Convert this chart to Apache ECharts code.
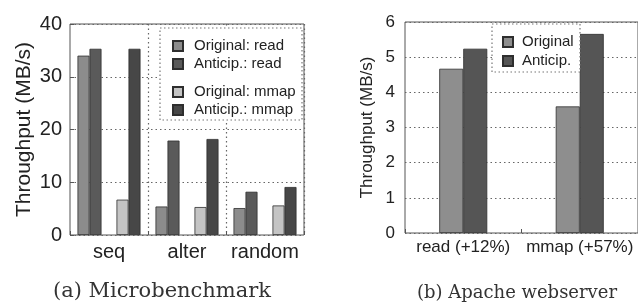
<!DOCTYPE html>
<html lang="en">
<head>
    <meta charset="UTF-8">
    <title>Throughput</title>
    <script type="text/javascript" src="https://cdn.jsdelivr.net/npm/echarts@6/dist/echarts.min.js"></script>
    <style>
        html, body { margin: 0; padding: 0; background: #fff; }
    </style>
</head>
<body>

    <div id="chart" style="width:638px;height:303px;"></div>

<script type="text/javascript">
    // (a) Microbenchmark
    var groups = ['seq', 'alter', 'random'];
    var origRead = [34.0, 5.4, 5.1];
    var antRead = [35.3, 17.9, 8.2];
    var origMmap = [6.7, 5.3, 5.6];
    var antMmap = [35.3, 18.2, 9.1];

    // (b) Apache webserver
    var apacheCats = ['read (+12%)', 'mmap (+57%)'];
    var apacheOrig = [4.67, 3.6];
    var apacheAnt = [5.24, 5.66];

    // each group holds a read pair then a mmap pair
    var pairKeys = [];
    groups.forEach(function (g) { pairKeys.push(g + ':read', g + ':mmap'); });

    function spread(vals, slot) {
        var out = [];
        vals.forEach(function (v) {
            out.push(slot === 0 ? v : null, slot === 1 ? v : null);
        });
        return out;
    }

    var font = "'Liberation Sans', Arial, sans-serif";
    var ink = '#222';
    var dots = { color: '#666', width: 1.2, type: [1.5, 3] };
    var outline = { borderColor: '#2e2e2e', borderWidth: 0.8 };

    function txt(size, extra) {
        return Object.assign({ fontFamily: font, fontSize: size, color: ink }, extra || {});
    }

    function bar(name, data, stack, color, xi, yi, w) {
        return {
            name: name, type: 'bar', data: data, stack: stack,
            xAxisIndex: xi, yAxisIndex: yi, barWidth: w, barGap: 0,
            itemStyle: Object.assign({ color: color }, outline),
            animation: false
        };
    }

    var dom = document.getElementById('chart');
    var myChart = echarts.init(dom);

    var option = {
        animation: false,
        textStyle: { fontFamily: font, color: ink },
        grid: [
            { left: 70, right: 334, top: 24, bottom: 68, show: true, borderColor: '#555', borderWidth: 1 },
            { left: 405, right: -7, top: 22, bottom: 70, show: true, borderColor: '#555', borderWidth: 1 }
        ],
        xAxis: [
            {   // bars of the microbenchmark
                gridIndex: 0, type: 'category', data: pairKeys,
                axisLine: { show: false }, axisTick: { show: false },
                axisLabel: { show: false }, splitLine: { show: false }
            },
            {   // group labels and dividers
                gridIndex: 0, type: 'category', data: groups, position: 'bottom',
                axisLine: { show: false },
                axisTick: { show: true, inside: true, length: 4, lineStyle: { color: '#555' } },
                axisLabel: txt(20, { margin: 7, interval: 0 }),
                splitLine: {
                    show: true, lineStyle: dots,
                    interval: function (i) { return i > 0; }
                }
            },
            {
                gridIndex: 1, type: 'category', data: apacheCats,
                axisLine: { show: false },
                axisTick: { show: true, inside: true, length: 4, lineStyle: { color: '#555' } },
                axisLabel: txt(17, { margin: 6, interval: 0 }),
                splitLine: { show: false }
            }
        ],
        yAxis: [
            {
                gridIndex: 0, type: 'value', min: 0, max: 40, interval: 10,
                name: 'Throughput (MB/s)', nameLocation: 'middle', nameGap: 35,
                nameTextStyle: txt(21),
                axisLine: { show: false },
                axisTick: { show: true, inside: true, length: 4, lineStyle: { color: '#555' } },
                axisLabel: txt(20, { margin: 8 }),
                splitLine: { show: true, lineStyle: dots }
            },
            {
                gridIndex: 1, type: 'value', min: 0, max: 6, interval: 1,
                name: 'Throughput (MB/s)', nameLocation: 'middle', nameGap: 29,
                nameTextStyle: txt(17),
                axisLine: { show: false },
                axisTick: { show: false },
                axisLabel: txt(17, { margin: 10 }),
                splitLine: { show: true, lineStyle: dots }
            }
        ],
        legend: [
            {
                data: ['Original: read', 'Anticip.: read'],
                left: 167, top: 33, orient: 'vertical',
                itemWidth: 10, itemHeight: 10, itemGap: 2, icon: 'rect',
                textStyle: txt(15, { lineHeight: 16, padding: [0, 0, 0, 6] }),
                selectedMode: false
            },
            {
                data: ['Original: mmap', 'Anticip.: mmap'],
                left: 167, top: 79, orient: 'vertical',
                itemWidth: 10, itemHeight: 10, itemGap: 2, icon: 'rect',
                textStyle: txt(15, { lineHeight: 16, padding: [0, 0, 0, 6] }),
                selectedMode: false
            },
            {
                data: ['Original', 'Anticip.'],
                left: 497, top: 29, orient: 'vertical',
                itemWidth: 10, itemHeight: 10, itemGap: 3, icon: 'rect',
                textStyle: txt(15, { lineHeight: 16, padding: [0, 0, 0, 4] }),
                selectedMode: false
            }
        ],
        graphic: [
            {
                type: 'rect', z: 3, shape: { x: 160, y: 28, width: 142, height: 92 },
                style: { fill: '#fff', stroke: '#777', lineWidth: 1.2, lineDash: [1.5, 2.5] }
            },
            {
                type: 'rect', z: 3, shape: { x: 492, y: 24, width: 88, height: 48 },
                style: { fill: '#fff', stroke: '#777', lineWidth: 1.2, lineDash: [1.5, 2.5] }
            },
            {
                type: 'text', x: 162, y: 292,
                style: { text: '(a) Microbenchmark', fontFamily: 'DejaVu Serif', fontSize: 21,
                         fill: '#333', align: 'center', verticalAlign: 'middle' }
            },
            {
                type: 'text', x: 517, y: 293,
                style: { text: '(b) Apache webserver', fontFamily: 'DejaVu Serif', fontSize: 18,
                         fill: '#333', align: 'center', verticalAlign: 'middle' }
            }
        ],
        series: [
            bar('Original: read', spread(origRead, 0), 'orig', '#8c8c8c', 0, 0, 12),
            bar('Original: mmap', spread(origMmap, 1), 'orig', '#c4c4c4', 0, 0, 12),
            bar('Anticip.: read', spread(antRead, 0), 'ant', '#5a5a5a', 0, 0, 12),
            bar('Anticip.: mmap', spread(antMmap, 1), 'ant', '#474747', 0, 0, 12),
            bar('Original', apacheOrig, null, '#8e8e8e', 2, 1, 24),
            bar('Anticip.', apacheAnt, null, '#555555', 2, 1, 24)
        ]
    };

    if (option && typeof option === "object") {
        myChart.setOption(option, true);
    }
</script>
</body>
</html>
